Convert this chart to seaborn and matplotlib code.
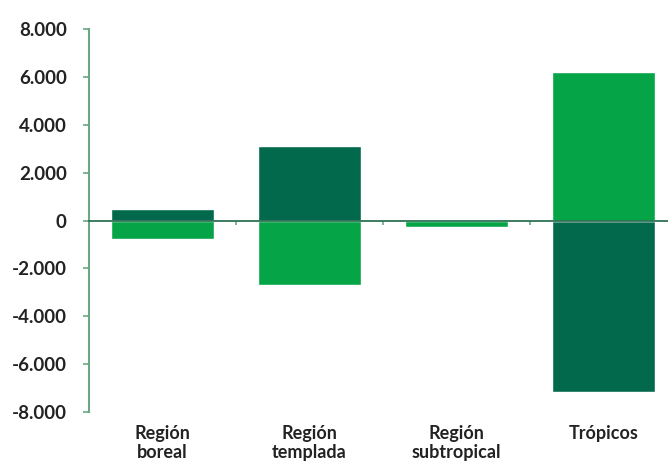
import matplotlib
matplotlib.use("Agg")
import matplotlib.pyplot as plt
import seaborn as sns
import pandas as pd
import numpy as np

categorias = ["Región\nboreal", "Región\ntemplada", "Región\nsubtropical", "Trópicos"]
serie_oscura = [480, 3100, 0, -7150]
serie_clara = [-780, -2680, -270, 6200]
yticks = [-8000, -6000, -4000, -2000, 0, 2000, 4000, 6000, 8000]
ytick_labels = ["-8.000", "-6.000", "-4.000", "-2.000", "0", "2.000", "4.000", "6.000", "8.000"]

sns.set_theme(style="white")
plt.rcParams['font.family'] = ['Lato', 'DejaVu Sans']

color_oscuro = "#03694d"
color_claro = "#05a547"
color_eje = "#6aa882"

fig = plt.figure(figsize=(6.68, 4.66), dpi=100)
ax = fig.add_axes([89/668, 1 - 412/466, 1 - 89/668, (412 - 29)/466])

df = pd.DataFrame({"cat": categorias, "oscura": serie_oscura, "clara": serie_clara})
sns.barplot(data=df, x="cat", y="oscura", color=color_oscuro, width=0.7,
            saturation=1, ax=ax, order=categorias)
sns.barplot(data=df, x="cat", y="clara", color=color_claro, width=0.7,
            saturation=1, ax=ax, order=categorias)

ax.set_xlim(-0.5, 3.44)
ax.set_ylim(-8000, 8000)
ax.set_xlabel("")
ax.set_ylabel("")

# y axis
ax.set_yticks(yticks)
ax.set_yticklabels(ytick_labels)
ax.tick_params(axis="y", direction="out", length=4, width=1.2, color=color_eje,
               pad=12, labelsize=13.5, labelcolor="#222222", left=True)
for lab in ax.get_yticklabels():
    lab.set_fontweight("bold")
ax.spines["left"].set_color(color_eje)
ax.spines["left"].set_linewidth(1.5)
ax.spines["top"].set_visible(False)
ax.spines["right"].set_visible(False)

# bottom spine as zero line
ax.spines["bottom"].set_position(("data", 0))
ax.spines["bottom"].set_color("#2f7255")
ax.spines["bottom"].set_linewidth(1.3)
ax.spines["bottom"].set_zorder(5)
ax.set_xticks(np.arange(len(categorias)))
ax.set_xticklabels([])
ax.set_xticks(np.arange(len(categorias) - 1) + 0.5, minor=True)
ax.tick_params(axis="x", which="major", length=0)
ax.tick_params(axis="x", which="minor", direction="out", length=3, width=1.2,
               color=color_eje, bottom=True)

# category labels at the bottom
sec = ax.secondary_xaxis(0)
sec.set_xticks(np.arange(len(categorias)))
sec.set_xticklabels(categorias)
sec.spines["bottom"].set_visible(False)
sec.tick_params(axis="x", length=0, pad=9, labelsize=13, labelcolor="#222222")
for lab in sec.get_xticklabels():
    lab.set_fontweight("bold")
    lab.set_linespacing(1.2)

fig.savefig("out.png", dpi=100)
